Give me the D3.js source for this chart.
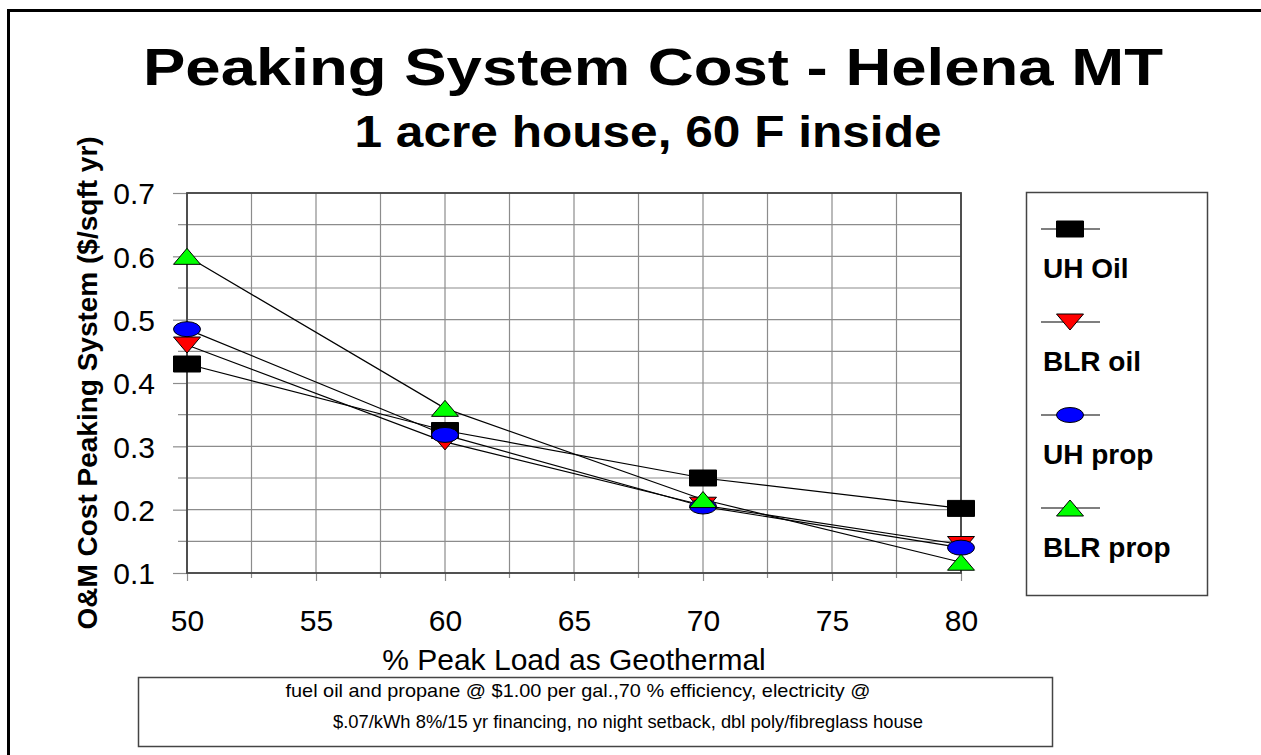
<!DOCTYPE html>
<html>
<head>
<meta charset="utf-8">
<script src="https://cdn.jsdelivr.net/npm/d3@7"></script>
<style>
  body { margin: 0; background: #fff; }
  svg text { font-family: "Liberation Sans", Arial, sans-serif; }
</style>
</head>
<body>
<div id="chart"></div>
<script>
/* DATA */
const xValues = [50, 60, 70, 80];
const uhOil = [0.43, 0.325, 0.25, 0.202];
const blrOil = [0.46, 0.307, 0.207, 0.145];
const uhProp = [0.485, 0.318, 0.205, 0.14];
const blrProp = [0.6, 0.36, 0.216, 0.117];
const seriesNames = ["UH Oil", "BLR oil", "UH prop", "BLR prop"];
const xTicks = [50, 55, 60, 65, 70, 75, 80];
const yTicks = [0.1, 0.2, 0.3, 0.4, 0.5, 0.6, 0.7];

const title = "Peaking System Cost - Helena MT";
const subtitle = "1 acre house, 60 F inside";
const xTitle = "% Peak Load as Geothermal";
const yTitle = "O&M Cost Peaking System ($/sqft yr)";
const noteLines = [
  "fuel oil and propane @ $1.00 per gal.,70 % efficiency, electricity @",
  "$.07/kWh 8%/15 yr financing, no night setback, dbl poly/fibreglass house"
];

/* CONSTANTS */
const width = 1261,
  height = 755,
  margin = { top: 193, bottom: 182, left: 187, right: 300 };

const series = [
  { name: seriesNames[0], values: uhOil, shape: "square", fill: "#000000" },
  { name: seriesNames[1], values: blrOil, shape: "down", fill: "#ff0000" },
  { name: seriesNames[2], values: uhProp, shape: "ellipse", fill: "#0000ff" },
  { name: seriesNames[3], values: blrProp, shape: "up", fill: "#00ff00" }
];

// marker outline as path, centred on 0,0
function markerPath(shape) {
  const w = 13.5, h = 8;
  if (shape === "square") return `M${-w},${-h}H${w}V${h}H${-w}Z`;
  if (shape === "down") return `M${-w},${-h}L${w},${-h}L0,${h}Z`;
  if (shape === "up") return `M0,${-h}L${w},${h}L${-w},${h}Z`;
  // ellipse
  const rx = 13.5, ry = 7.5;
  return `M${-rx},0A${rx},${ry} 0 1,0 ${rx},0A${rx},${ry} 0 1,0 ${-rx},0Z`;
}

const svg = d3.select("#chart")
  .append("svg")
  .attr("width", width)
  .attr("height", height);

// outer frame (runs off the right and bottom edge)
svg.append("rect")
  .attr("x", 8.5).attr("y", 10.5)
  .attr("width", 1300).attr("height", 800)
  .attr("fill", "none")
  .attr("stroke", "#000")
  .attr("stroke-width", 3);

// + SCALES
const xScale = d3.scaleLinear()
  .domain([50, 80])
  .range([margin.left, width - margin.right]);

const yScale = d3.scaleLinear()
  .domain([0.1, 0.7])
  .range([height - margin.bottom, margin.top]);

// + GRID
const grid = svg.append("g").attr("class", "grid")
  .attr("stroke", "#8c8c8c").attr("stroke-width", 1.2);

grid.selectAll("line.vx")
  .data(d3.range(50, 80.01, 2.5))
  .join("line")
  .attr("class", "vx")
  .attr("x1", d => xScale(d)).attr("x2", d => xScale(d))
  .attr("y1", yScale(0.7)).attr("y2", yScale(0.1));

grid.selectAll("line.hy")
  .data(d3.range(0.1, 0.701, 0.05))
  .join("line")
  .attr("class", "hy")
  .attr("x1", xScale(50)).attr("x2", xScale(80))
  .attr("y1", d => yScale(d)).attr("y2", d => yScale(d));

// minor ticks
grid.selectAll("line.mx")
  .data(d3.range(52.5, 80, 5))
  .join("line")
  .attr("class", "mx")
  .attr("x1", d => xScale(d)).attr("x2", d => xScale(d))
  .attr("y1", yScale(0.1)).attr("y2", yScale(0.1) + 5);

grid.selectAll("line.my")
  .data(d3.range(0.15, 0.7, 0.1))
  .join("line")
  .attr("class", "my")
  .attr("x1", xScale(50) - 9).attr("x2", xScale(50))
  .attr("y1", d => yScale(d)).attr("y2", d => yScale(d));

// + AXES
const xAxis = d3.axisBottom(xScale)
  .tickValues(xTicks)
  .tickSize(8)
  .tickPadding(10)
  .tickFormat(d3.format("d"));

const yAxis = d3.axisLeft(yScale)
  .tickValues(yTicks)
  .tickSize(14)
  .tickPadding(18)
  .tickFormat(d3.format(".1f"));

const gx = svg.append("g")
  .attr("class", "xAxis")
  .attr("transform", `translate(0, ${yScale(0.1)})`)
  .call(xAxis);

const gy = svg.append("g")
  .attr("class", "yAxis")
  .attr("transform", `translate(${xScale(50)}, 0)`)
  .call(yAxis);

[gx, gy].forEach(g => {
  g.select(".domain").remove();
  g.selectAll(".tick line").attr("stroke", "#8c8c8c").attr("stroke-width", 1.2);
  g.selectAll(".tick text")
    .attr("fill", "#000")
    .attr("font-size", 30)
    .attr("font-family", "Liberation Sans, Arial, sans-serif");
});
gx.selectAll(".tick text").attr("dy", "1.33em");
gy.selectAll(".tick text").attr("dy", "0.36em");

// plot frame
svg.append("rect")
  .attr("x", xScale(50)).attr("y", yScale(0.7))
  .attr("width", xScale(80) - xScale(50))
  .attr("height", yScale(0.1) - yScale(0.7))
  .attr("fill", "none")
  .attr("stroke", "#444")
  .attr("stroke-width", 1.8);

// + LINES
const lineFunction = d3.line()
  .x((d, i) => xScale(xValues[i]))
  .y(d => yScale(d));

svg.selectAll("path.line")
  .data(series)
  .join("path")
  .attr("class", "line")
  .attr("fill", "none")
  .attr("stroke", "#000")
  .attr("stroke-width", 1.2)
  .attr("d", d => lineFunction(d.values));

// + MARKERS
series.forEach(s => {
  svg.append("g")
    .selectAll("path")
    .data(s.values)
    .join("path")
    .attr("transform", (d, i) => `translate(${xScale(xValues[i])}, ${yScale(d)})`)
    .attr("d", markerPath(s.shape))
    .attr("fill", s.fill)
    .attr("stroke", "#000")
    .attr("stroke-width", 1);
});

// + TITLES
svg.append("text")
  .attr("x", 653).attr("y", 85)
  .attr("text-anchor", "middle")
  .attr("font-size", 52)
  .attr("font-weight", "bold")
  .attr("textLength", 1020)
  .attr("lengthAdjust", "spacingAndGlyphs")
  .text(title);

svg.append("text")
  .attr("x", 648).attr("y", 147)
  .attr("text-anchor", "middle")
  .attr("font-size", 44)
  .attr("font-weight", "bold")
  .attr("textLength", 587)
  .attr("lengthAdjust", "spacingAndGlyphs")
  .text(subtitle);

svg.append("text")
  .attr("x", (xScale(50) + xScale(80)) / 2)
  .attr("y", 670)
  .attr("text-anchor", "middle")
  .attr("font-size", 30)
  .text(xTitle);

svg.append("text")
  .attr("transform", `translate(97, ${(yScale(0.1) + yScale(0.7)) / 2}) rotate(-90)`)
  .attr("text-anchor", "middle")
  .attr("font-size", 28)
  .attr("font-weight", "bold")
  .text(yTitle);

// + LEGEND
const legend = svg.append("g").attr("class", "legend");
legend.append("rect")
  .attr("x", 1026.5).attr("y", 192.5)
  .attr("width", 181).attr("height", 403)
  .attr("fill", "#fff")
  .attr("stroke", "#444")
  .attr("stroke-width", 1.5);

const legendY = d3.scalePoint()
  .domain(seriesNames)
  .range([229, 508]);

const item = legend.selectAll("g.item")
  .data(series)
  .join("g")
  .attr("class", "item")
  .attr("transform", d => `translate(0, ${legendY(d.name)})`);

item.append("line")
  .attr("x1", 1041).attr("x2", 1100)
  .attr("stroke", "#000").attr("stroke-width", 1.2);

item.append("path")
  .attr("transform", "translate(1070, 0)")
  .attr("d", d => markerPath(d.shape))
  .attr("fill", d => d.fill)
  .attr("stroke", "#000");

item.append("text")
  .attr("x", 1043).attr("y", 49)
  .attr("font-size", 28)
  .attr("font-weight", "bold")
  .text(d => d.name);

// + NOTE BOX
svg.append("rect")
  .attr("x", 138.5).attr("y", 677.5)
  .attr("width", 914).attr("height", 69)
  .attr("fill", "#fff")
  .attr("stroke", "#444")
  .attr("stroke-width", 1.5);

svg.selectAll("text.note")
  .data(noteLines)
  .join("text")
  .attr("class", "note")
  .attr("x", (d, i) => [578, 628][i])
  .attr("y", (d, i) => 697 + i * 31)
  .attr("text-anchor", "middle")
  .attr("font-size", 19)
  .attr("textLength", (d, i) => [585, 590][i])
  .attr("lengthAdjust", "spacingAndGlyphs")
  .text(d => d);
</script>
</body>
</html>
